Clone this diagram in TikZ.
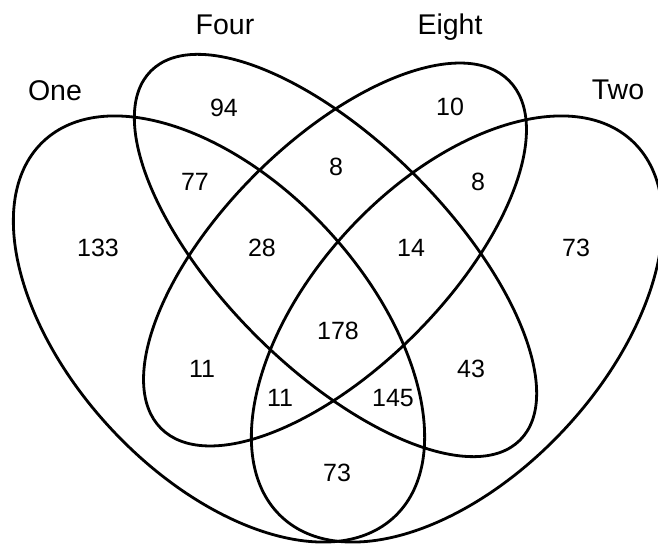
\documentclass[tikz,border=0pt]{standalone}
\usepackage{fontspec}
\setmainfont{Liberation Sans}
\begin{document}
\begin{tikzpicture}[x=1pt, y=1pt,
    ring/.style={draw, line width=2.8pt},
    setlabel/.style={anchor=base, font=\fontsize{28.5}{34}\selectfont},
    count/.style={font=\fontsize{25}{29}\selectfont}]
    \useasboundingbox (0,0) rectangle (658,544);
    \clip (0,0) rectangle (658,544);

    % the four sets
    \draw[ring, rotate around={-47:(219,215)}] (219,215) ellipse [x radius=257, y radius=147];
    \draw[ring, rotate around={-45:(335.5,288.5)}] (335.5,288.5) ellipse [x radius=261, y radius=113];
    \draw[ring, rotate around={45:(335,289.5)}] (335,289.5) ellipse [x radius=246, y radius=113];
    \draw[ring, rotate around={47:(457,215)}] (457,215) ellipse [x radius=257, y radius=147];

    % set names
    \node (one)   [setlabel] at (55,443)  {One};
    \node (four)  [setlabel] at (225,509) {Four};
    \node (eight) [setlabel] at (450,509) {Eight};
    \node (two)   [setlabel] at (618,444) {Two};

    % region counts
    \node (f)    [count] at (224,436) {94};
    \node (e)    [count] at (450,437) {10};
    \node (of)   [count] at (195,362) {77};
    \node (fe)   [count] at (336,377) {8};
    \node (et)   [count] at (478,362) {8};
    \node (o)    [count] at (98,296)  {133};
    \node (ofe)  [count] at (262,296) {28};
    \node (fet)  [count] at (411,296) {14};
    \node (t)    [count] at (576,296) {73};
    \node (ofet) [count] at (338,213) {178};
    \node (oe)   [count] at (202,175) {11};
    \node (ft)   [count] at (471,175) {43};
    \node (oet)  [count] at (280,146) {11};
    \node (oft)  [count] at (393,146) {145};
    \node (ot)   [count] at (337,71)  {73};
  \end{tikzpicture}
\end{document}
